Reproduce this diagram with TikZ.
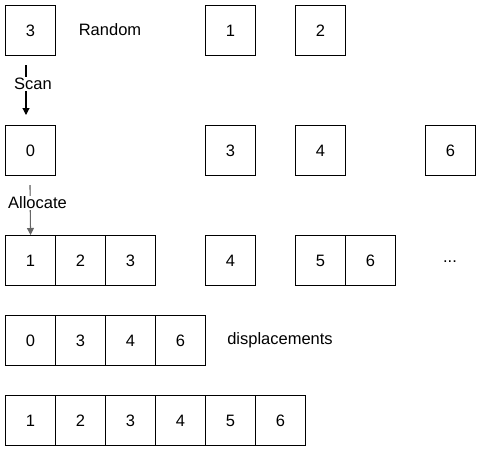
\documentclass[tikz,border=0pt]{standalone}
\usepackage{fontspec}
\setmainfont{Liberation Sans}
\usetikzlibrary{arrows.meta}
\begin{document}
\begin{tikzpicture}[x=1pt,y=-1pt,
  cell/.style={draw=black,line width=1.1pt,minimum width=50pt,minimum height=50pt,inner sep=0pt,anchor=north west,font=\fontsize{16.5pt}{19pt}\selectfont},
  lbl/.style={font=\fontsize{16.5pt}{19pt}\selectfont,inner sep=1pt},
  arr/.style={line width=1.1pt,-{Triangle[length=7pt,width=7pt]}},
  elbl/.style={font=\fontsize{16.5pt}{19pt}\selectfont,fill=white,inner sep=1pt}]
\useasboundingbox (0,0) rectangle (481,451);
% row 1
\node[cell] (r1a) at (5,5) {3};
\node[lbl] (rand) at (110,30) {Random};
\node[cell] (r1b) at (205,5) {1};
\node[cell] (r1c) at (295,5) {2};
% row 2
\node[cell] (r2a) at (5,125) {0};
\node[cell] (r2b) at (205,125) {3};
\node[cell] (r2c) at (295,125) {4};
\node[cell] (r2d) at (425,125) {6};
% row 3
\node[cell] (r3a) at (5,235) {1};
\node[cell] (r3b) at (55,235) {2};
\node[cell] (r3c) at (105,235) {3};
\node[cell] (r3d) at (205,235) {4};
\node[cell] (r3e) at (295,235) {5};
\node[cell] (r3f) at (345,235) {6};
\node[lbl] (dots) at (450,262) {...};
% row 4
\node[cell] (r4a) at (5,315) {0};
\node[cell] (r4b) at (55,315) {3};
\node[cell] (r4c) at (105,315) {4};
\node[cell] (r4d) at (155,315) {6};
\node[lbl] (disp) at (280,340) {displacements};
% row 5
\node[cell] (r5a) at (5,395) {1};
\node[cell] (r5b) at (55,395) {2};
\node[cell] (r5c) at (105,395) {3};
\node[cell] (r5d) at (155,395) {4};
\node[cell] (r5e) at (205,395) {5};
\node[cell] (r5f) at (255,395) {6};
% arrows
\coordinate (s1) at (26,65);
\coordinate (s2) at (26,115);
\draw[arr] (s1) -- (s2);
\node[elbl] (scan) at (33,84) {Scan};
\coordinate (a1) at (30,185);
\draw[arr,draw=black!60,fill=black] (a1) -- (r3a.north);
\node[elbl] (alloc) at (37.5,203) {Allocate};
\end{tikzpicture}
\end{document}
